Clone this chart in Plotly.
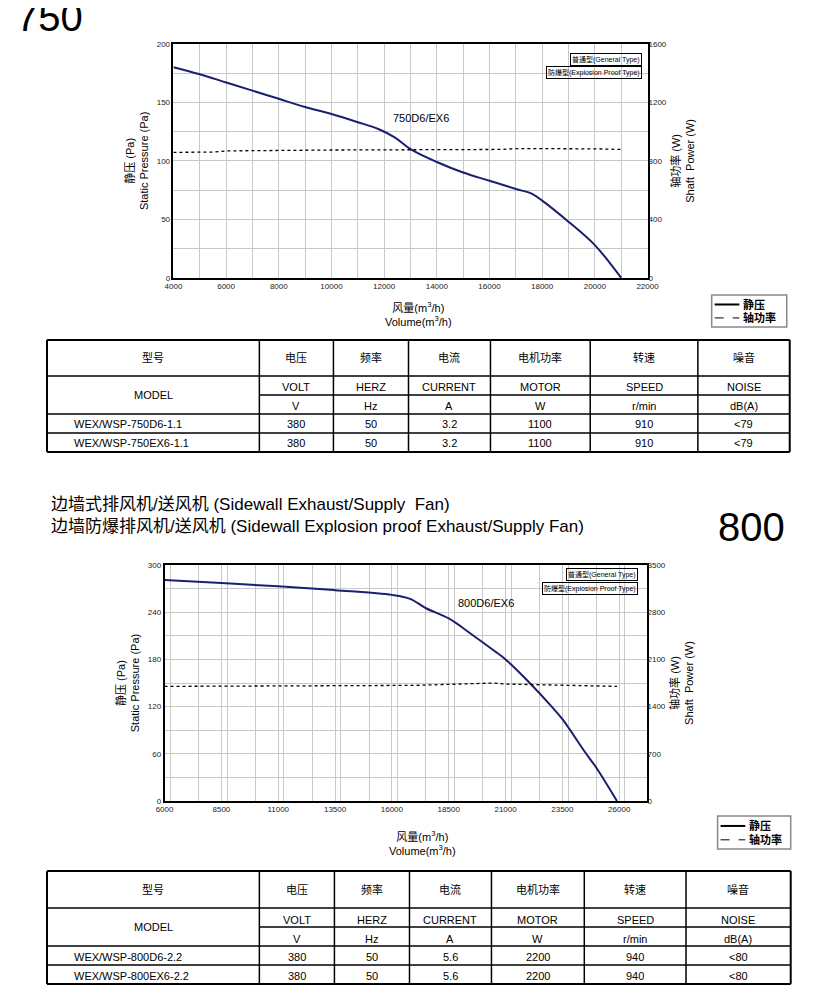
import plotly.graph_objects as go

W, H = 833, 1001

# ---- chart data (750) ----
vol_750 = [4000, 5000, 6000, 7000, 8000, 9000, 10000, 11000, 11800, 12400, 13000,
           14000, 15000, 16000, 17000, 17600, 18000, 19000, 20000, 21000]
pa_750 = [180, 174, 167, 160, 153, 146, 140, 133, 127, 120, 110,
          99, 90, 83, 76, 72, 66, 48, 28, 0]
pw_vol_750 = [4000, 5500, 6000, 10000, 16500, 17000, 20000, 21000]
pw_750 = [858, 860, 868, 874, 878, 884, 882, 878]

# ---- chart data (800) ----
vol_800 = [6000, 8500, 11000, 13500, 16000, 16800, 17500, 18500, 19500, 20500,
           21000, 22000, 23000, 23500, 24500, 25000, 25900]
pa_800 = [281, 277, 273, 268, 262, 257, 245, 232, 212, 191,
          180, 152, 121, 104, 62, 42, 0]
pw_vol_800 = [6000, 11000, 17000, 19500, 20500, 21000, 23000, 25900]
pw_800 = [1700, 1705, 1715, 1740, 1750, 1735, 1725, 1700]

# ---- tables ----
hdr_cn = ["型号", "电压", "频率", "电流", "电机功率", "转速", "噪音"]
hdr_en = ["VOLT", "HERZ", "CURRENT", "MOTOR", "SPEED", "NOISE"]
hdr_unit = ["V", "Hz", "A", "W", "r/min", "dB(A)"]
rows_750 = [["WEX/WSP-750D6-1.1", "380", "50", "3.2", "1100", "910", "<79"],
            ["WEX/WSP-750EX6-1.1", "380", "50", "3.2", "1100", "910", "<79"]]
rows_800 = [["WEX/WSP-800D6-2.2", "380", "50", "5.6", "2200", "940", "<80"],
            ["WEX/WSP-800EX6-2.2", "380", "50", "5.6", "2200", "940", "<80"]]

FONT = "Liberation Sans, Arial, Noto Sans CJK SC"
NAVY = "#1a1f6e"


# page pixel -> paper, corrected for the offset seen in the rendered page
def px(x):
    return ((x - 12.6) / 0.987) / W


def py(y):
    return 1 - ((y - 12.2) / 0.9907) / H


fig = go.Figure()
fig.add_trace(go.Scatter(x=vol_750, y=pa_750, mode="lines", line=dict(color=NAVY, width=2),
                         xaxis="x", yaxis="y", line_shape="spline"))
fig.add_trace(go.Scatter(x=pw_vol_750, y=pw_750, mode="lines", line=dict(color="black", width=1.3, dash="dot"),
                         xaxis="x", yaxis="y2"))
fig.add_trace(go.Scatter(x=vol_800, y=pa_800, mode="lines", line=dict(color=NAVY, width=2),
                         xaxis="x2", yaxis="y3", line_shape="spline"))
fig.add_trace(go.Scatter(x=pw_vol_800, y=pw_800, mode="lines", line=dict(color="black", width=1.3, dash="dot"),
                         xaxis="x2", yaxis="y4"))

tick = dict(family=FONT, size=8, color="#222")
grid = "#c8c8c8"
ax_common = dict(showline=True, linecolor="black", linewidth=1.5, mirror=True, ticks="",
                 tickfont=tick, showgrid=True, gridcolor=grid, zeroline=False, tickformat="d")
ttl = dict(family=FONT, size=11, color="black")

fig.update_layout(
    width=W, height=H, margin=dict(l=0, r=0, t=0, b=0), showlegend=False,
    plot_bgcolor="white", paper_bgcolor="white", font=dict(family=FONT),
    xaxis=dict(domain=[px(171), px(651)], range=[4000, 22000], dtick=2000,
               minor=dict(dtick=1000, showgrid=True, gridcolor=grid), anchor="y", **ax_common),
    yaxis=dict(domain=[py(278), py(44)], range=[0, 200], dtick=50,
               minor=dict(dtick=25, showgrid=True, gridcolor=grid), anchor="x",
               title=dict(text="静压 (Pa)<br>Static Pressure (Pa)", font=ttl, standoff=6), **ax_common),
    yaxis2=dict(overlaying="y", side="right", range=[0, 1600], dtick=400, showgrid=False,
                tickfont=tick, anchor="x", zeroline=False, tickformat="d",
                title=dict(text="轴功率 (W)<br>Shaft  Power (W)", font=ttl, standoff=6)),
    xaxis2=dict(domain=[px(162), px(650)], range=[6000, 27200], tick0=6000, dtick=2500,
                minor=dict(dtick=1250, showgrid=True, gridcolor=grid), anchor="y3", **ax_common),
    yaxis3=dict(domain=[py(801), py(565)], range=[0, 300], dtick=60,
                minor=dict(dtick=30, showgrid=True, gridcolor=grid), anchor="x2",
                title=dict(text="静压 (Pa)<br>Static Pressure (Pa)", font=ttl, standoff=6), **ax_common),
    yaxis4=dict(overlaying="y3", side="right", range=[0, 3500], dtick=700, showgrid=False,
                tickfont=tick, anchor="x2", zeroline=False, tickformat="d",
                title=dict(text="轴功率 (W)<br>Shaft  Power (W)", font=ttl, standoff=6)),
)

ann = []
shp = []


def text(x, y, s, size=11, xanchor="center", **kw):
    ann.append(dict(x=px(x), y=py(y), xref="paper", yref="paper", text=s, showarrow=False,
                    xanchor=xanchor, yanchor="middle", font=dict(family=FONT, size=size, color="black"), **kw))


def line(x0, y0, x1, y1, w=1, dash=None):
    shp.append(dict(type="line", xref="paper", yref="paper", x0=px(x0), y0=py(y0), x1=px(x1), y1=py(y1),
                    line=dict(color="black", width=w, dash=dash)))


# big titles and headings
text(10, 17, "750", size=40, xanchor="left")
text(720, 527, "800", size=40, xanchor="left")
text(45, 505, "边墙式排风机/送风机 (Sidewall Exhaust/Supply  Fan)", size=17, xanchor="left")
text(45, 527, "边墙防爆排风机/送风机 (Sidewall Explosion proof Exhaust/Supply Fan)", size=17, xanchor="left")

# in-chart labels
text(422, 118, "750D6/EX6", size=11)
text(487, 603, "800D6/EX6", size=11)
for (xr, y1, y2) in [(645, 60, 73), (641, 575, 589)]:
    text(xr, y1, "普通型(General Type)", size=7, xanchor="right", bordercolor="black", borderwidth=1, borderpad=1)
    text(xr, y2, "防爆型(Explosion Proof Type)", size=7, xanchor="right", bordercolor="black", borderwidth=1, borderpad=1)

# x axis titles
text(419, 314, "风量(m<sup>3</sup>/h)<br>Volume(m<sup>3</sup>/h)", size=11)
text(423, 843, "风量(m<sup>3</sup>/h)<br>Volume(m<sup>3</sup>/h)", size=11)

# legend boxes
for (x0, y0, x1, y1) in [(716, 295, 792, 327), (722, 816, 796, 849)]:
    shp.append(dict(type="rect", xref="paper", yref="paper", x0=px(x0), y0=py(y0), x1=px(x1), y1=py(y1),
                    line=dict(color="#888", width=1.5)))
    ym1 = y0 + (y1 - y0) * 0.3
    ym2 = y0 + (y1 - y0) * 0.72
    line(x0 + 3, ym1, x0 + 28, ym1, w=2)
    line(x0 + 3, ym2, x0 + 28, ym2, w=1, dash="dash")
    text(x0 + 30, ym1, "<b>静压</b>", size=11, xanchor="left")
    text(x0 + 30, ym2, "<b>轴功率</b>", size=11, xanchor="left")


def table(cols, rows_y, data):
    top, r1, r2, r3, r4, bot = rows_y
    left, right = cols[0], cols[-1]
    for y in [top, bot]:
        line(left, y, right, y, w=2)
    for y in [r1, r3, r4]:
        line(left, y, right, y, w=1.5)
    line(cols[1], r2, right, r2, w=1.5)
    for i, x in enumerate(cols):
        line(x, top, x, bot, w=2 if i in (0, len(cols) - 1) else 1.5)
    for i, s in enumerate(hdr_cn):
        text((cols[i] + cols[i + 1]) / 2, (top + r1) / 2, s, size=11)
    text((cols[0] + cols[1]) / 2, (r1 + r3) / 2, "MODEL", size=11)
    for i in range(6):
        cx = (cols[i + 1] + cols[i + 2]) / 2
        text(cx, (r1 + r2) / 2 + 2, hdr_en[i], size=11)
        text(cx, (r2 + r3) / 2 + 2, hdr_unit[i], size=11)
    for j, row in enumerate(data):
        ya, yb = [(r3, r4), (r4, bot)][j]
        text(cols[0] + 25, (ya + yb) / 2 + 1, row[0], size=11, xanchor="left")
        for i in range(1, 7):
            text((cols[i] + cols[i + 1]) / 2, (ya + yb) / 2 + 1, row[i], size=11)


table([43, 258, 333, 409, 492, 593, 702, 795], [340, 376, 395, 414, 433, 452], rows_750)
table([43, 258, 334, 410, 493, 587, 690, 796], [871, 908, 927, 946, 965, 984], rows_800)

fig.update_layout(annotations=ann, shapes=shp)
fig.write_html("out.html")
